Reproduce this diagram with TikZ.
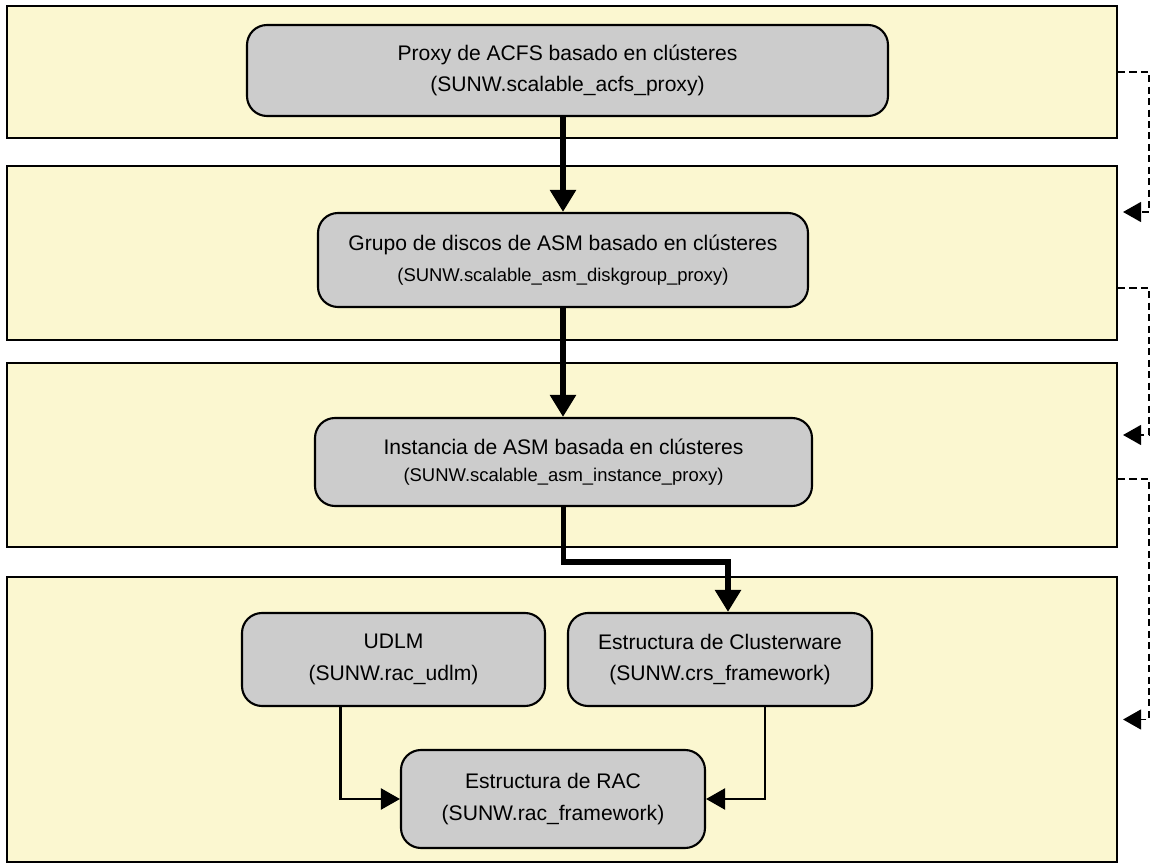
\documentclass[tikz,border=0pt]{standalone}
\usepackage{fontspec}
\setmainfont{Liberation Sans}
\usetikzlibrary{arrows.meta}
\usetikzlibrary{calc,positioning}
\definecolor{panelgelb}{RGB}{251,247,208}
\definecolor{boxgrau}{RGB}{204,204,204}

\begin{document}
\begin{tikzpicture}
	\useasboundingbox (0,0) rectangle (23,-17.36);

	% Ebenen
	\begin{scope}[every node/.style={draw=black,line width=1.2pt,fill=panelgelb,minimum width=22.2cm,inner sep=0pt}]
		\node[minimum height=2.64cm] (lvla) at (11.24,-1.44) {};
		\node[minimum height=3.48cm] (lvlb) at (11.24,-5.06) {};
		\node[minimum height=3.68cm] (lvlc) at (11.24,-9.1) {};
		\node[minimum height=5.7cm] (lvld) at (11.24,-14.39) {};
	\end{scope}

	% Ressourcentypen
	\begin{scope}[every node/.style={draw=black,line width=1.2pt,fill=boxgrau,rounded corners=0.4cm,align=center,inner sep=0pt,font=\fontsize{12}{18}\selectfont}]
		\node[minimum width=12.82cm,minimum height=1.82cm] (acfs) at (11.35,-1.41) {Proxy de ACFS basado en clústeres\\(SUNW.scalable\_acfs\_proxy)};
		\node[minimum width=9.8cm,minimum height=1.88cm] (diskgrp) at (11.26,-5.2) {Grupo de discos de ASM basado en clústeres\\{\fontsize{10.5}{18}\selectfont (SUNW.scalable\_asm\_diskgroup\_proxy)}};
		\node[minimum width=9.94cm,minimum height=1.76cm,font=\fontsize{12}{15}\selectfont] (asminst) at (11.27,-9.24) {Instancia de ASM basada en clústeres\\{\fontsize{10.5}{15}\selectfont (SUNW.scalable\_asm\_instance\_proxy)}};
		\node[minimum width=6.06cm,minimum height=1.86cm] (udlm) at (7.87,-13.19) {UDLM\\(SUNW.rac\_udlm)};
		\node[minimum width=6.08cm,minimum height=1.86cm] (crs) at (14.4,-13.19) {Estructura de Clusterware\\(SUNW.crs\_framework)};
		\node[minimum width=6.08cm,minimum height=1.96cm] (racfw) at (11.06,-15.98) {Estructura de RAC\\(SUNW.rac\_framework)};
	\end{scope}

	\coordinate (knick) at ($(lvlc.south)!0.5!(lvld.north)$);
	\coordinate (rand) at (22.98,0);

	\begin{scope}[line width=3.2pt,>={Triangle[length=0.44cm,width=0.5cm]}]
		\draw[->] (acfs.south -| diskgrp.north) -- (diskgrp.north);
		\draw[->] (diskgrp.south) -- (diskgrp.south |- asminst.north);
		\draw[->] (asminst.south) -- (asminst.south |- knick) -| ([xshift=0.16cm]crs.north);
	\end{scope}

	\begin{scope}[line width=1.3pt,>={Triangle[length=0.38cm,width=0.42cm]}]
		\draw[->] ([xshift=-1.06cm]udlm.south) |- (racfw.west);
		\draw[->] ([xshift=0.9cm]crs.south) |- (racfw.east);
	\end{scope}

	\begin{scope}[line width=0.8pt,dash pattern=on 4pt off 2.5pt,>={Triangle[length=0.36cm,width=0.4cm]}]
		\draw[->] (lvla.east) -- (lvla.east -| rand) |- ([xshift=0.1cm,yshift=0.82cm]lvlb.east);
		\draw[->] ([yshift=-0.7cm]lvlb.east) -- ([yshift=-0.7cm]lvlb.east -| rand) |- ([xshift=0.1cm,yshift=0.4cm]lvlc.east);
		\draw[->] ([yshift=-0.48cm]lvlc.east) -- ([yshift=-0.48cm]lvlc.east -| rand) |- ([xshift=0.1cm]lvld.east);
	\end{scope}
\end{tikzpicture}
\end{document}
